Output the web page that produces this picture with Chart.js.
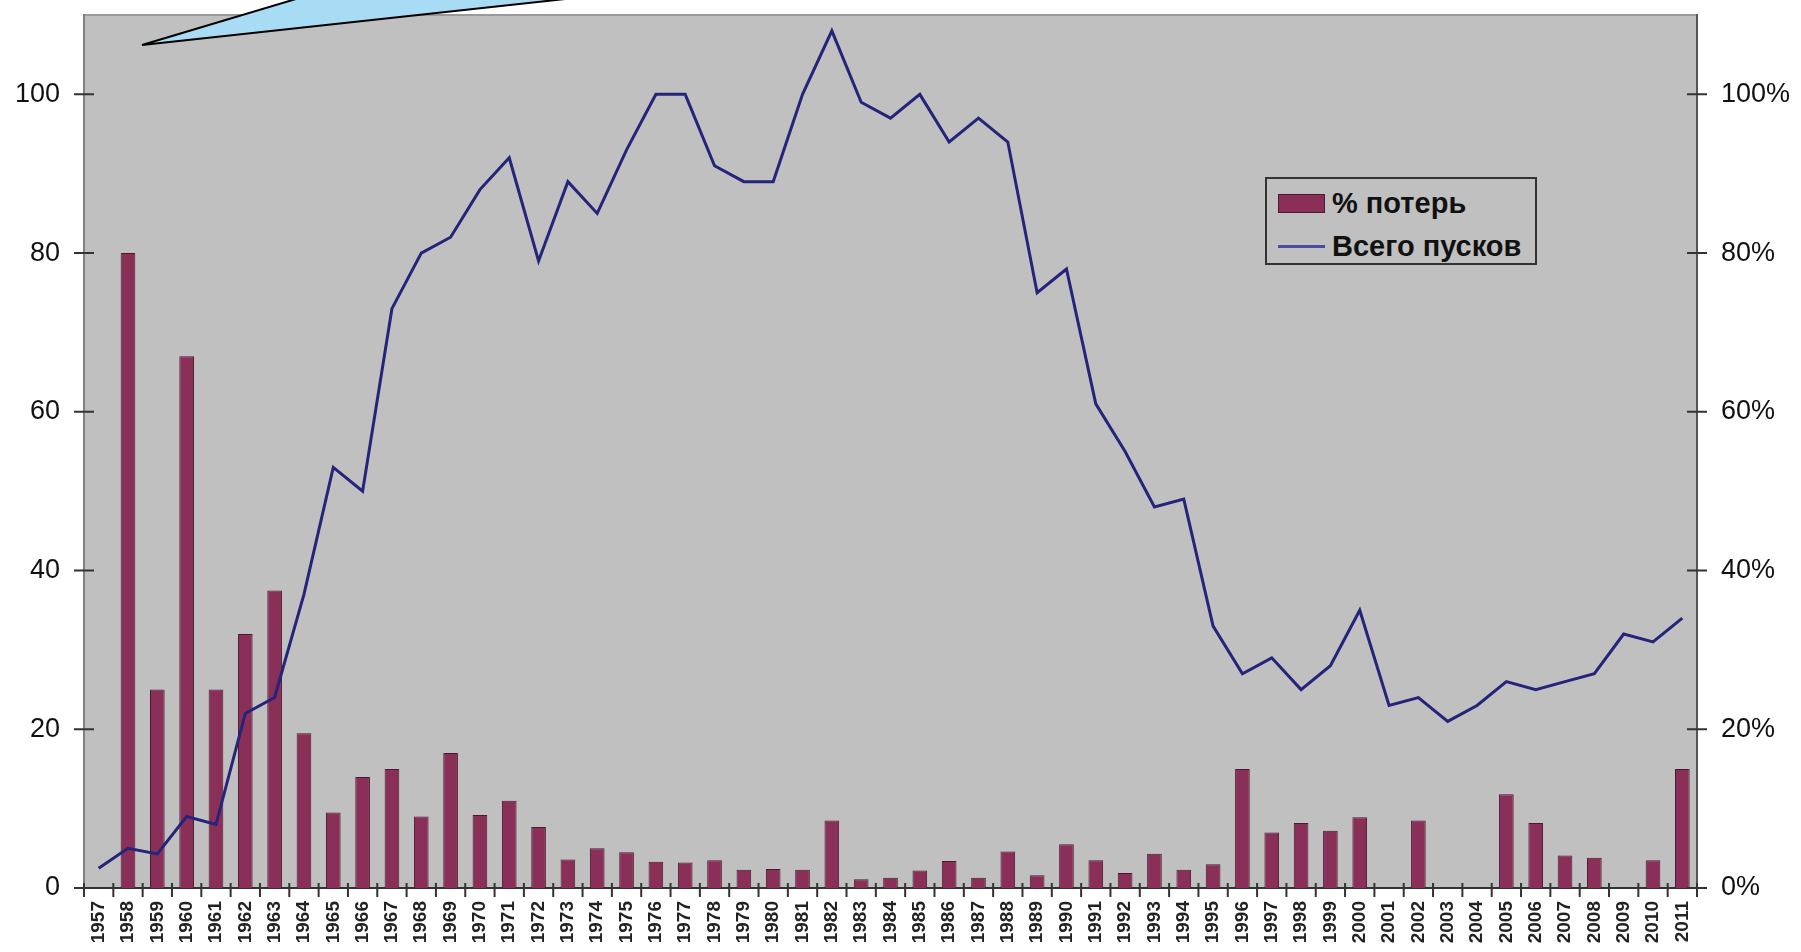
<!DOCTYPE html>
<html>
<head>
<meta charset="utf-8">
<script src="https://cdn.jsdelivr.net/npm/chart.js@4.4.1/dist/chart.umd.min.js"></script>
<style>
  html, body { margin: 0; padding: 0; background: #ffffff; }
  #wrap { position: relative; width: 1801px; height: 952px; overflow: hidden; }
  #legend {
    position: absolute; left: 1265px; top: 177px; width: 268px; height: 84px;
    border: 2px solid #333; background: #c0c0c0;
    font: bold 29px 'Liberation Sans', Arial, sans-serif; color: #111;
  }
  .lg-row { position: absolute; left: 0; height: 34px; line-height: 34px; white-space: nowrap; }
  .lg-sw { position: absolute; left: 11px; }
  .lg-tx { position: absolute; left: 65px; top: 0; }
</style>
</head>
<body>
<div id="wrap">
  <canvas id="c" width="1801" height="952"></canvas>
  <div id="legend"></div>
</div>
<script>
// ---- data ----
const years = ['1957','1958','1959','1960','1961','1962','1963','1964','1965','1966',
  '1967','1968','1969','1970','1971','1972','1973','1974','1975','1976',
  '1977','1978','1979','1980','1981','1982','1983','1984','1985','1986',
  '1987','1988','1989','1990','1991','1992','1993','1994','1995','1996',
  '1997','1998','1999','2000','2001','2002','2003','2004','2005','2006',
  '2007','2008','2009','2010','2011'];

// % потерь (right axis, percent)
const lossPct = [0, 80, 25, 67, 25, 32, 37.5, 19.5, 9.5, 14,
  15, 9, 17, 9.2, 11, 7.7, 3.6, 5, 4.5, 3.3,
  3.2, 3.5, 2.3, 2.4, 2.3, 8.5, 1.1, 1.3, 2.2, 3.4,
  1.3, 4.6, 1.6, 5.5, 3.5, 1.9, 4.3, 2.3, 3, 15,
  7, 8.2, 7.2, 8.9, 0, 8.5, 0, 0, 11.8, 8.2,
  4.1, 3.8, 0, 3.5, 15];

// Всего пусков (left axis, count)
const launches = [2.5, 5, 4.3, 9, 8, 22, 24, 37, 53, 50,
  73, 80, 82, 88, 92, 79, 89, 85, 93, 100,
  100, 91, 89, 89, 100, 108, 99, 97, 100, 94,
  97, 94, 75, 78, 61, 55, 48, 49, 33, 27,
  29, 25, 28, 35, 23, 24, 21, 23, 26, 25,
  26, 27, 32, 31, 34];

const leftTicks = [0, 20, 40, 60, 80, 100];
const rightTicks = [0, 20, 40, 60, 80, 100];
const seriesNames = ['% потерь', 'Всего пусков'];

const FONT = "'Liberation Sans', Arial, sans-serif";

const plotBg = {
  id: 'plotBg',
  beforeDraw(chart) {
    const { ctx, chartArea: a } = chart;
    ctx.save();
    ctx.fillStyle = '#c0c0c0';
    ctx.fillRect(a.left, a.top, a.right - a.left, a.bottom - a.top);
    ctx.strokeStyle = '#9a9a9a';
    ctx.lineWidth = 2;
    ctx.beginPath();
    ctx.moveTo(a.left, a.top);
    ctx.lineTo(a.right, a.top);
    ctx.stroke();
    ctx.restore();
  }
};

const crossTicks = {
  id: 'crossTicks',
  afterDraw(chart) {
    const { ctx, chartArea: a, scales } = chart;
    ctx.save();
    ctx.strokeStyle = '#333';
    ctx.lineWidth = 2;
    ctx.beginPath();
    scales.y.ticks.forEach(t => {
      const y = scales.y.getPixelForValue(t.value);
      ctx.moveTo(a.left - 10, y); ctx.lineTo(a.left + 10, y);
    });
    scales.y1.ticks.forEach(t => {
      const y = scales.y1.getPixelForValue(t.value);
      ctx.moveTo(a.right - 10, y); ctx.lineTo(a.right + 10, y);
    });
    const xs = scales.x;
    const n = xs.ticks.length;
    for (let i = 0; i <= n; i++) {
      let x;
      if (i === 0) x = a.left;
      else if (i === n) x = a.right;
      else x = (xs.getPixelForTick(i - 1) + xs.getPixelForTick(i)) / 2;
      ctx.moveTo(x, a.bottom - 5); ctx.lineTo(x, a.bottom + 9);
    }
    ctx.stroke();
    ctx.restore();
  }
};

const callout = {
  id: 'callout',
  afterDraw(chart) {
    const ctx = chart.ctx;
    const tip = [142, 45];
    const up = [326, -10];
    const low = [648, -10];
    ctx.save();
    ctx.beginPath();
    ctx.moveTo(up[0], up[1]);
    ctx.lineTo(tip[0], tip[1]);
    ctx.lineTo(low[0], low[1]);
    ctx.closePath();
    ctx.fillStyle = '#a8dcf5';
    ctx.fill();
    ctx.beginPath();
    ctx.moveTo(up[0], up[1]);
    ctx.lineTo(tip[0], tip[1]);
    ctx.lineTo(low[0], low[1]);
    ctx.strokeStyle = '#000';
    ctx.lineWidth = 2;
    ctx.lineJoin = 'miter';
    ctx.stroke();
    ctx.restore();
  }
};

function noPad(s) {
  s.paddingTop = 0; s.paddingBottom = 0; s.paddingLeft = 0; s.paddingRight = 0;
}

const chart = new Chart(document.getElementById('c'), {
  data: {
    labels: years,
    datasets: [
      {
        type: 'bar',
        label: seriesNames[0],
        data: lossPct,
        yAxisID: 'y1',
        backgroundColor: '#8a2f58',
        borderColor: '#4a1a30',
        borderWidth: 1,
        barPercentage: 0.5,
        categoryPercentage: 1.0,
        order: 2
      },
      {
        type: 'line',
        label: seriesNames[1],
        data: launches,
        yAxisID: 'y',
        borderColor: '#24247a',
        backgroundColor: '#24247a',
        borderWidth: 3,
        pointRadius: 0,
        tension: 0,
        order: 1
      }
    ]
  },
  options: {
    responsive: false,
    animation: false,
    devicePixelRatio: 1,
    layout: { padding: { top: 15, left: 0, right: 0, bottom: 0 } },
    plugins: { legend: { display: false }, tooltip: { enabled: false } },
    scales: {
      x: {
        type: 'category',
        offset: true,
        grid: { display: false, drawTicks: false },
        border: { display: true, color: '#333', width: 2 },
        ticks: {
          autoSkip: false, maxRotation: 90, minRotation: 90, padding: 13,
          color: '#222', font: { family: FONT, size: 19, weight: 'bold' }
        },
        afterFit(s) { s.height = 64; noPad(s); }
      },
      y: {
        position: 'left',
        min: 0, max: 110,
        grid: { display: false, drawTicks: false },
        border: { display: true, color: '#808080', width: 2 },
        ticks: { padding: 24, color: '#111', font: { family: FONT, size: 27 } },
        afterBuildTicks(s) { s.ticks = leftTicks.map(v => ({ value: v })); },
        afterFit(s) { s.width = 84; noPad(s); }
      },
      y1: {
        position: 'right',
        min: 0, max: 110,
        grid: { display: false, drawTicks: false },
        border: { display: true, color: '#555', width: 2 },
        ticks: {
          padding: 24, color: '#111', font: { family: FONT, size: 27 },
          callback: v => v + '%'
        },
        afterBuildTicks(s) { s.ticks = rightTicks.map(v => ({ value: v })); },
        afterFit(s) { s.width = 104; noPad(s); }
      }
    }
  },
  plugins: [plotBg, crossTicks, callout]
});

// HTML legend built from the chart's datasets
(function buildLegend() {
  const lg = document.getElementById('legend');
  chart.data.datasets.forEach((ds, i) => {
    const row = document.createElement('div');
    row.className = 'lg-row';
    row.style.top = (i === 0 ? 7 : 50) + 'px';
    row.style.width = '100%';
    const sw = document.createElement('div');
    sw.className = 'lg-sw';
    if (ds.type === 'bar') {
      sw.style.cssText += 'top:8px;width:45px;height:17px;background:' + ds.backgroundColor + ';border:1px solid ' + ds.borderColor + ';';
    } else {
      sw.style.cssText += 'top:16px;width:47px;height:3px;background:#4a4aa0;';
    }
    const tx = document.createElement('div');
    tx.className = 'lg-tx';
    tx.textContent = ds.label;
    row.appendChild(sw);
    row.appendChild(tx);
    lg.appendChild(row);
  });
})();
</script>
</body>
</html>
